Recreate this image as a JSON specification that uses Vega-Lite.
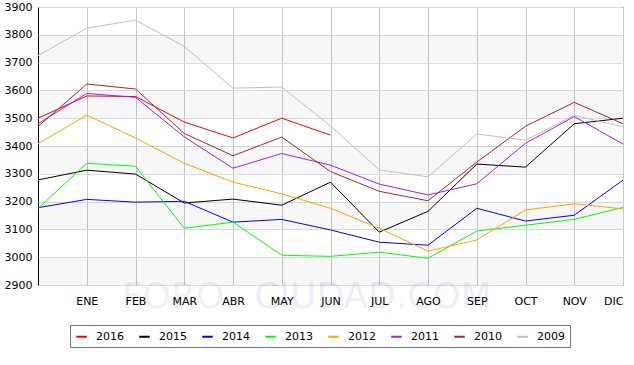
{
  "$schema": "https://vega.github.io/schema/vega-lite/v6.json",
  "autosize": {"type": "none"},
  "width": 585,
  "height": 278,
  "padding": {"left": 38, "top": 7, "right": 11, "bottom": 80},
  "background": "#ffffff",
  "config": {
    "font": "DejaVu Sans",
    "view": {"stroke": "#000000", "strokeWidth": 1},
    "axis": {"domain": false, "ticks": false, "labelFont": "DejaVu Sans", "labelFontSize": 11, "labelColor": "#000000", "title": null},
    "axisY": {"labelOverlap": false, "tickCount": 10, "gridColor": "#dcdcdc", "labelPadding": 6}
  },
  "layer": [
    {
      "data": {"values": [
        {"lo": 2900, "hi": 3000}, {"lo": 3100, "hi": 3200}, {"lo": 3300, "hi": 3400}, {"lo": 3500, "hi": 3600}, {"lo": 3700, "hi": 3800}
      ]},
      "mark": {"type": "rect", "color": "#000000", "opacity": 0.03},
      "encoding": {
        "y": {"field": "lo", "type": "quantitative", "scale": {"domain": [2900, 3900], "nice": false, "zero": false}, "axis": {"format": "d", "labelOverlap": false, "tickCount": 10}},
        "y2": {"field": "hi"}
      }
    },
    {
      "data": {"values": [{"text": "FORO", "m": 2.77, "v": 2857}]},
      "mark": {"type": "text", "font": "DejaVu Sans", "fontSize": 36, "baseline": "middle", "align": "center", "color": "#000000", "opacity": 0.05},
      "encoding": {
        "x": {"field": "m", "type": "quantitative"},
        "y": {"field": "v", "type": "quantitative"},
        "text": {"field": "text"}
      }
    },
    {
      "data": {"values": [{"text": "CIUDAD.COM", "m": 6.87, "v": 2857}]},
      "mark": {"type": "text", "font": "DejaVu Sans", "fontSize": 36, "baseline": "middle", "align": "center", "color": "#0000ff", "opacity": 0.07},
      "encoding": {
        "x": {"field": "m", "type": "quantitative"},
        "y": {"field": "v", "type": "quantitative"},
        "text": {"field": "text"}
      }
    },
    {
      "data": {"values": [
        {"m":0,"year":"2016","v":3500},{"m":1,"year":"2016","v":3580},{"m":2,"year":"2016","v":3578},{"m":3,"year":"2016","v":3486},{"m":4,"year":"2016","v":3429},{"m":5,"year":"2016","v":3500},{"m":6,"year":"2016","v":3439},
        {"m":0,"year":"2015","v":3278},{"m":1,"year":"2015","v":3313},{"m":2,"year":"2015","v":3299},{"m":3,"year":"2015","v":3195},{"m":4,"year":"2015","v":3209},{"m":5,"year":"2015","v":3187},{"m":6,"year":"2015","v":3270},{"m":7,"year":"2015","v":3090},{"m":8,"year":"2015","v":3165},{"m":9,"year":"2015","v":3335},{"m":10,"year":"2015","v":3324},{"m":11,"year":"2015","v":3480},{"m":12,"year":"2015","v":3500},
        {"m":0,"year":"2014","v":3178},{"m":1,"year":"2014","v":3208},{"m":2,"year":"2014","v":3198},{"m":3,"year":"2014","v":3201},{"m":4,"year":"2014","v":3126},{"m":5,"year":"2014","v":3136},{"m":6,"year":"2014","v":3098},{"m":7,"year":"2014","v":3054},{"m":8,"year":"2014","v":3043},{"m":9,"year":"2014","v":3176},{"m":10,"year":"2014","v":3130},{"m":11,"year":"2014","v":3151},{"m":12,"year":"2014","v":3277},
        {"m":0,"year":"2013","v":3175},{"m":1,"year":"2013","v":3338},{"m":2,"year":"2013","v":3327},{"m":3,"year":"2013","v":3104},{"m":4,"year":"2013","v":3126},{"m":5,"year":"2013","v":3007},{"m":6,"year":"2013","v":3003},{"m":7,"year":"2013","v":3018},{"m":8,"year":"2013","v":2996},{"m":9,"year":"2013","v":3094},{"m":10,"year":"2013","v":3115},{"m":11,"year":"2013","v":3136},{"m":12,"year":"2013","v":3179},
        {"m":0,"year":"2012","v":3408},{"m":1,"year":"2012","v":3511},{"m":2,"year":"2012","v":3429},{"m":3,"year":"2012","v":3338},{"m":4,"year":"2012","v":3270},{"m":5,"year":"2012","v":3228},{"m":6,"year":"2012","v":3176},{"m":7,"year":"2012","v":3104},{"m":8,"year":"2012","v":3022},{"m":9,"year":"2012","v":3062},{"m":10,"year":"2012","v":3170},{"m":11,"year":"2012","v":3192},{"m":12,"year":"2012","v":3174},
        {"m":0,"year":"2011","v":3480},{"m":1,"year":"2011","v":3589},{"m":2,"year":"2011","v":3575},{"m":3,"year":"2011","v":3433},{"m":4,"year":"2011","v":3320},{"m":5,"year":"2011","v":3373},{"m":6,"year":"2011","v":3331},{"m":7,"year":"2011","v":3263},{"m":8,"year":"2011","v":3224},{"m":9,"year":"2011","v":3264},{"m":10,"year":"2011","v":3410},{"m":11,"year":"2011","v":3506},{"m":12,"year":"2011","v":3407},
        {"m":0,"year":"2010","v":3470},{"m":1,"year":"2010","v":3623},{"m":2,"year":"2010","v":3605},{"m":3,"year":"2010","v":3445},{"m":4,"year":"2010","v":3365},{"m":5,"year":"2010","v":3432},{"m":6,"year":"2010","v":3308},{"m":7,"year":"2010","v":3237},{"m":8,"year":"2010","v":3203},{"m":9,"year":"2010","v":3342},{"m":10,"year":"2010","v":3471},{"m":11,"year":"2010","v":3557},{"m":12,"year":"2010","v":3480},
        {"m":0,"year":"2009","v":3725},{"m":1,"year":"2009","v":3824},{"m":2,"year":"2009","v":3853},{"m":3,"year":"2009","v":3758},{"m":4,"year":"2009","v":3608},{"m":5,"year":"2009","v":3612},{"m":6,"year":"2009","v":3472},{"m":7,"year":"2009","v":3314},{"m":8,"year":"2009","v":3289},{"m":9,"year":"2009","v":3443},{"m":10,"year":"2009","v":3421},{"m":11,"year":"2009","v":3510},{"m":12,"year":"2009","v":3469}
      ]},
      "mark": {"type": "line", "strokeWidth": 1},
      "encoding": {
        "x": {
          "field": "m", "type": "quantitative",
          "scale": {"domain": [0, 12], "nice": false, "zero": false},
          "axis": {
            "values": [1,2,3,4,5,6,7,8,9,10,11,12],
            "labelExpr": "['','ENE','FEB','MAR','ABR','MAY','JUN','JUL','AGO','SEP','OCT','NOV','DIC'][datum.value]",
            "gridColor": "#c8c8c8", "labelPadding": 10
          }
        },
        "y": {"field": "v", "type": "quantitative", "axis": {"format": "d", "labelOverlap": false, "tickCount": 10}},
        "color": {
          "field": "year", "type": "nominal",
          "scale": {
            "domain": ["2016","2015","2014","2013","2012","2011","2010","2009"],
            "range": ["#ff0000","#000000","#0000ff","#00ff00","#ffa500","#a020f0","#a52a2a","#c0c0c0"]
          },
          "legend": {
            "orient": "none", "legendX": 32, "legendY": 318,
            "direction": "horizontal", "columns": 8, "title": null,
            "strokeColor": "#777777", "fillColor": "#ffffff", "padding": 5,
            "symbolType": "stroke", "symbolStrokeWidth": 2, "symbolSize": 110,
            "labelFont": "DejaVu Sans", "labelFontSize": 11, "labelColor": "#000000",
            "columnPadding": 11, "labelOffset": 8
          }
        },
        "order": {"field": "year", "type": "nominal"}
      }
    }
  ]
}
